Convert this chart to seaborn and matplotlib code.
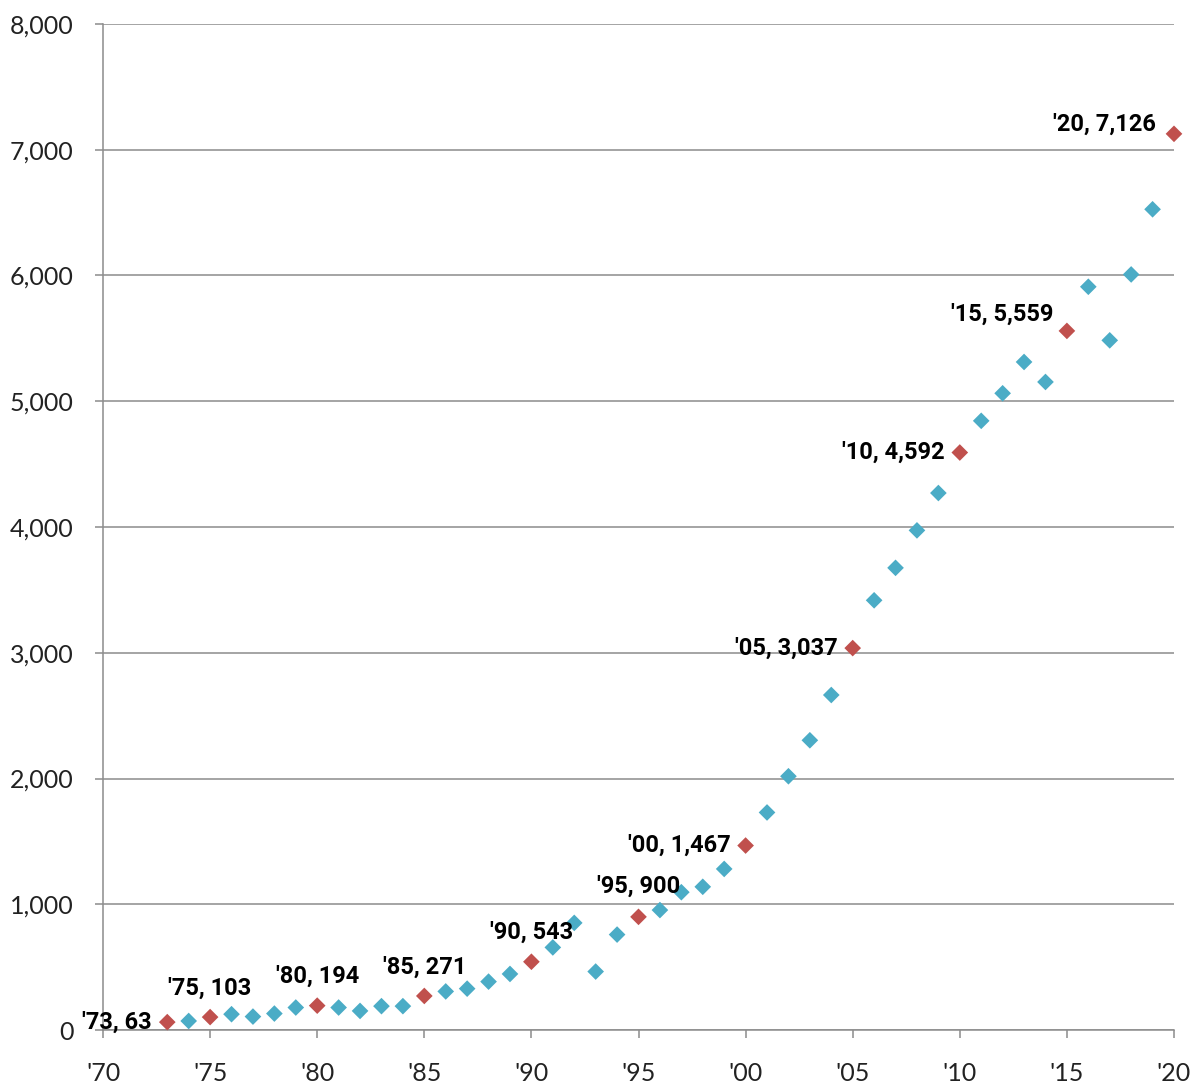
import numpy as np
import pandas as pd
import matplotlib
matplotlib.use("Agg")
import matplotlib.pyplot as plt
import seaborn as sns

years = list(range(1973, 2021))
values = [63, 72, 103, 126, 107, 131, 179, 194, 179, 152, 190, 190,
          271, 307, 329, 385, 446, 543, 657, 852, 465, 759, 900, 954,
          1096, 1139, 1281, 1467, 1730, 2018, 2304, 2664, 3037, 3417, 3675, 3973,
          4270, 4592, 4844, 5063, 5312, 5153, 5559, 5910, 5484, 6008, 6526, 7126]
labelled_years = [1973, 1975, 1980, 1985, 1990, 1995, 2000, 2005, 2010, 2015, 2020]
x_ticks = list(range(1970, 2021, 5))
y_ticks = list(range(0, 8001, 1000))

# label offsets in points (dx, dy) and alignment
label_pos = {
    1973: (-11, 0, "right"), 1975: (0, 21, "center"), 1980: (0, 21, "center"),
    1985: (0, 21, "center"), 1990: (0, 21, "center"), 1995: (0, 22, "center"),
    2000: (-11, 0, "right"), 2005: (-11, 0, "right"), 2010: (-11, 0, "right"),
    2015: (-10, 12, "right"), 2020: (-13, 7, "right"),
}

df = pd.DataFrame({"year": years, "value": values})
df["kind"] = np.where(df["year"].isin(labelled_years), "label", "plain")

sns.set_style("white")
plt.rcParams["font.family"] = ["Lato", "DejaVu Sans"]

fig = plt.figure(figsize=(12.02, 10.87), dpi=100)
ax = fig.add_axes([0.0857, 0.0524, 0.8910, 0.9256])

sns.scatterplot(data=df, x="year", y="value", hue="kind",
                palette={"plain": "#4BACC6", "label": "#C0504D"},
                marker="D", s=72, linewidth=0, legend=False, ax=ax,
                zorder=3, clip_on=False)

for yr, v in zip(years, values):
    if yr in labelled_years:
        dx, dy, ha = label_pos[yr]
        ax.annotate(f"'{yr % 100:02d}, {v:,}", (yr, v), xytext=(dx, dy),
                    textcoords="offset points", ha=ha, va="center",
                    fontsize=17, fontweight="bold", family=["Roboto", "DejaVu Sans"],
                    color="black", zorder=4)

ax.set_xlim(1970, 2020)
ax.set_ylim(0, 8000)
ax.set_xticks(x_ticks)
ax.set_xticklabels([f"'{t % 100:02d}" for t in x_ticks])
ax.set_yticks(y_ticks)
ax.set_yticklabels([f"{t:,}" for t in y_ticks])
ax.yaxis.grid(True, color="#8c8c8c", linewidth=1.1)
ax.set_axisbelow(True)
ax.set_xlabel("")
ax.set_ylabel("")

for side in ["top", "right"]:
    ax.spines[side].set_visible(False)
for side in ["left", "bottom"]:
    ax.spines[side].set_color("#8c8c8c")
    ax.spines[side].set_linewidth(1.1)

ax.tick_params(axis="y", length=6, width=1.1, color="#8c8c8c", direction="out",
               labelsize=18, labelcolor="#222222", pad=15, left=True)
ax.tick_params(axis="x", length=6, width=1.1, color="#8c8c8c", direction="out",
               labelsize=18, labelcolor="#222222", pad=17, bottom=True)

fig.savefig("out.png", dpi=100)
